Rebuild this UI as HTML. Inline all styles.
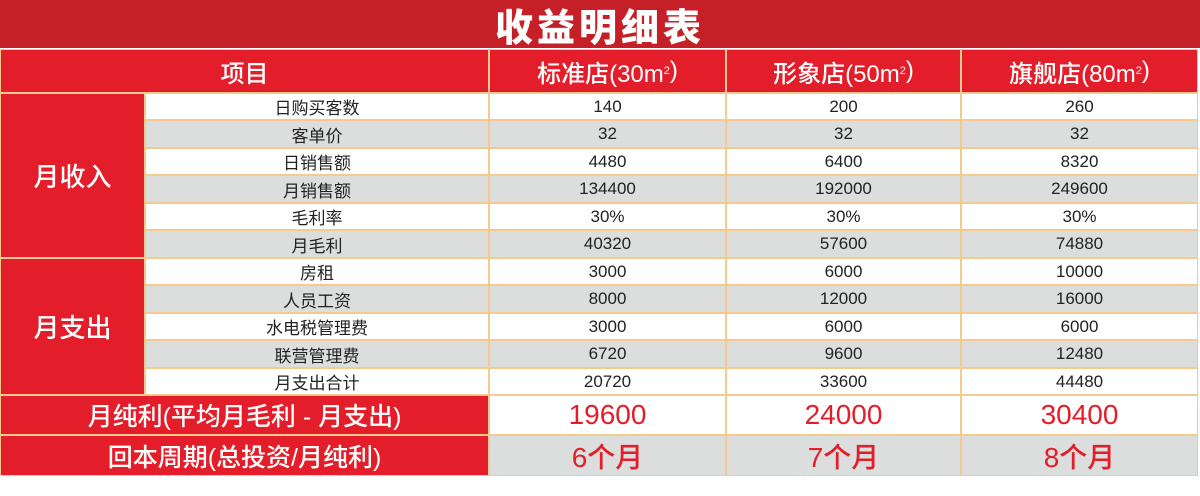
<!DOCTYPE html>
<html><head><meta charset="utf-8"><style>
*{margin:0;padding:0;box-sizing:border-box}
body{width:1200px;height:496px;background:#fff;position:relative;overflow:hidden;font-family:"Liberation Sans","Noto Sans CJK SC",sans-serif}
.c{position:absolute;display:flex;align-items:center;justify-content:center;border:1px solid #f6c98f;white-space:nowrap}
.t{position:absolute;left:0;top:0;width:1200px;height:48px;background:#c51f27;color:#fff;font-size:38px;font-weight:900;display:flex;align-items:center;justify-content:center;letter-spacing:4px}
.h{background:#e31e2a;color:#fff;font-size:24px;font-weight:500}
.g{background:#e31e2a;color:#fff;font-size:26px;font-weight:500}
.w{background:#fff;color:#222;font-size:17px}
.s{background:#dcdddd;color:#222;font-size:17px}
.r{color:#e31e2a;font-size:28px;font-weight:500}
.rl{background:#e31e2a;color:#fff;font-size:25px;font-weight:500}
sup{font-size:11px;vertical-align:top;line-height:1}
</style></head><body>
<div class="t">收益明细表</div>
<div id="x"></div>
<script>
var X=[0,145,489,726,961,1198];
var H='';
function cell(x0,x1,y0,y1,cls,txt){H+='<div class="c '+cls+'" style="left:'+x0+'px;top:'+y0+'px;width:'+(x1-x0)+'px;height:'+(y1-y0)+'px">'+txt+'</div>';}
cell(0,489,49,93,'h','项目');
cell(489,726,49,93,'h','标准店(30m<sup>2</sup>)');
cell(726,961,49,93,'h','形象店(50m<sup>2</sup>)');
cell(961,1198,49,93,'h','旗舰店(80m<sup>2</sup>)');
var rows=[['日购买客数','140','200','260'],['客单价','32','32','32'],['日销售额','4480','6400','8320'],['月销售额','134400','192000','249600'],['毛利率','30%','30%','30%'],['月毛利','40320','57600','74880'],['房租','3000','6000','10000'],['人员工资','8000','12000','16000'],['水电税管理费','3000','6000','6000'],['联营管理费','6720','9600','12480'],['月支出合计','20720','33600','44480']];
var ys=[];
for(var i=0;i<=11;i++)ys.push(Math.round(93+i*(302/11)));
for(var i=0;i<11;i++){var cls=i%2?'s':'w';for(var j=0;j<4;j++)cell(X[j+1],X[j+2],ys[i],ys[i+1],cls,rows[i][j]);}
cell(0,145,ys[0],ys[6],'g','月收入');
cell(0,145,ys[6],ys[11],'g','月支出');
cell(0,489,395,435,'rl','月纯利(平均月毛利 - 月支出)');
cell(489,726,395,435,'w r','19600');cell(726,961,395,435,'w r','24000');cell(961,1198,395,435,'w r','30400');
cell(0,489,435,476,'rl','回本周期(总投资/月纯利)');
cell(489,726,435,476,'s r','6个月');cell(726,961,435,476,'s r','7个月');cell(961,1198,435,476,'s r','8个月');
document.getElementById('x').innerHTML=H;
</script>
</body></html>
